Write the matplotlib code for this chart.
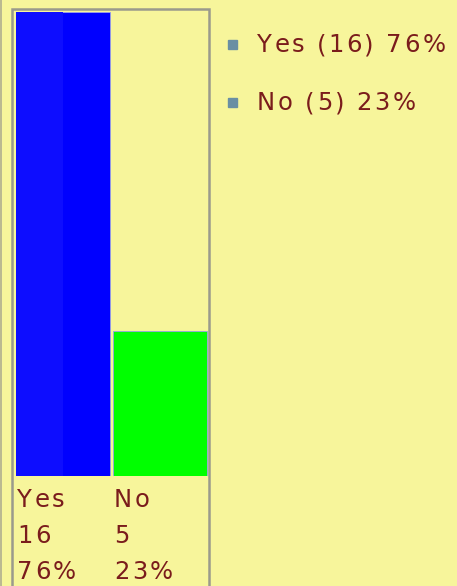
import matplotlib.pyplot as plt
from matplotlib.patches import Rectangle

categories = ['Yes', 'No']
counts = [16, 5]
percents = ['76%', '23%']
colors = ['#0000ff', '#00ff00']

W, H = 457, 586
bg = '#f7f59b'
text_color = '#7a1c1c'
legend_box = '#6a8fa3'
FS = 17.5
GAP = 2.4

fig = plt.figure(figsize=(W / 100, H / 100), dpi=100)
fig.patch.set_facecolor(bg)
renderer = fig.canvas.get_renderer()


def fx(px):
    return px / W


def fy(py):
    return 1 - py / H


def spaced_text(x, base, s):
    # old web font draws with wide letter spacing, so place char by char
    for ch in s:
        if ch == ' ':
            w = 0.318 * FS * 100 / 72
        else:
            t = fig.text(fx(x), fy(base), ch, fontsize=FS, color=text_color,
                         family='DejaVu Sans', va='baseline', ha='left')
            w = t.get_window_extent(renderer).width
        x += w + GAP


# plot area: bars sit between y=12 and y=476 px
ax = fig.add_axes([fx(14), fy(476), fx(195), (476 - 12) / H])
ax.patch.set_alpha(0)
ax.bar(range(len(categories)), counts, width=0.96, color=colors,
       edgecolor='#9aa0e8', linewidth=0.6)
# lighter left half on the blue bar
ax.bar(-0.24, counts[0], width=0.48, color='#0d0dff', linewidth=0)
ax.set_xlim(-0.5, 1.5)
ax.set_ylim(0, 16)
ax.axis('off')

# labels under bars
for i, (c, n, p) in enumerate(zip(categories, counts, percents)):
    for j, t in enumerate([c, str(n), p]):
        spaced_text(17 + i * 97, 507 + j * 36, t)

# gray frame around chart
fig.patches.append(Rectangle((fx(12), fy(600)), fx(197), (600 - 8.5) / H,
                             transform=fig.transFigure, fill=False,
                             edgecolor='#9a9a8c', linewidth=1.8))
fig.add_artist(plt.Line2D([fx(1), fx(1)], [0, 1], color='#b0ae90', linewidth=1.2))

# legend
for i, (c, n, p) in enumerate(zip(categories, counts, percents)):
    y = 44 + i * 58
    fig.patches.append(Rectangle((fx(228), fy(y + 4.5)), fx(9), 9 / H,
                                 transform=fig.transFigure, color=legend_box))
    spaced_text(257, y + 8.5, '%s (%d) %s' % (c, n, p))

fig.savefig('out.png', dpi=100, facecolor=bg)
